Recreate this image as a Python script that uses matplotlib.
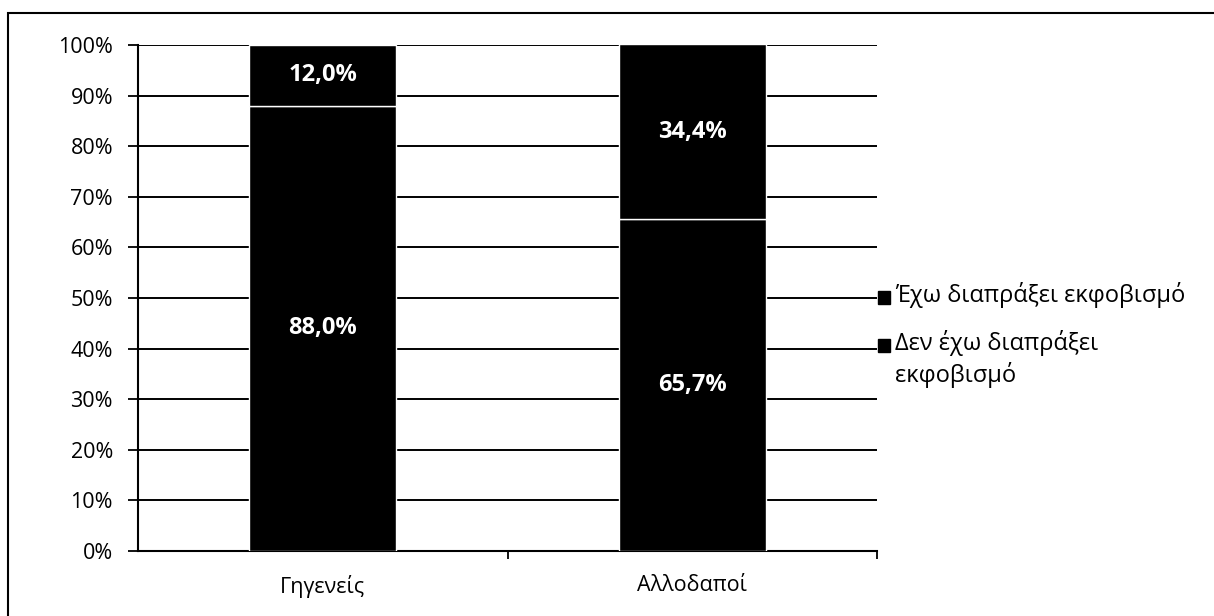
import numpy as np
import matplotlib.pyplot as plt
from matplotlib.patches import Rectangle
from matplotlib.ticker import PercentFormatter

categories = ['Γηγενείς', 'Αλλοδαποί']
not_bullied = [88.0, 65.7]   # Δεν έχω διαπράξει εκφοβισμό
bullied = [12.0, 34.4]       # Έχω διαπράξει εκφοβισμό
labels_not = ['88,0%', '65,7%']
labels_yes = ['12,0%', '34,4%']
legend_labels = ['Έχω διαπράξει εκφοβισμό', 'Δεν έχω διαπράξει\nεκφοβισμό']

plt.rcParams['font.family'] = ['Open Sans', 'DejaVu Sans']

fig = plt.figure(figsize=(12.14, 6.16), dpi=100)
ax = fig.add_axes([138 / 1214, 1 - 551 / 616, 739 / 1214, 506 / 616])

x = np.arange(len(categories))
w = 0.398
ax.bar(x, not_bullied, w, color='black', edgecolor='white', linewidth=1.0, zorder=3)
ax.bar(x, bullied, w, bottom=not_bullied, color='black', edgecolor='white', linewidth=1.0, zorder=3)

for i in range(len(categories)):
    ax.text(x[i], not_bullied[i] / 2, labels_not[i], ha='center', va='center',
            color='white', fontsize=17, fontweight='bold', zorder=4)
    ax.text(x[i], not_bullied[i] + bullied[i] / 2, labels_yes[i], ha='center', va='center',
            color='white', fontsize=17, fontweight='bold', zorder=4)

ax.set_xlim(-0.5, 1.5)
ax.set_ylim(0, 100)
ax.set_yticks(np.arange(0, 101, 10))
ax.yaxis.set_major_formatter(PercentFormatter(decimals=0))
ax.yaxis.grid(True, color='black', linewidth=1.4, zorder=1)
ax.set_axisbelow(True)

ax.set_xticks([0.5, 1.5])
ax.set_xticklabels([])
ax.set_xticks(x, minor=True)
ax.set_xticklabels(categories, minor=True, fontsize=15.5)
ax.tick_params(axis='x', which='minor', length=0, pad=17)
ax.tick_params(axis='x', which='major', length=6, width=1.3, color='black')
ax.tick_params(axis='y', length=7, width=1.3, pad=11, labelsize=15.5)

for s in ['top', 'right']:
    ax.spines[s].set_visible(False)
ax.spines['left'].set_linewidth(1.5)
ax.spines['bottom'].set_linewidth(1.5)

# legend drawn by hand so the square sits on the first text line
leg_y = [297, 345]
for yy, lab in zip(leg_y, legend_labels):
    fy = 1 - yy / 616
    fig.patches.append(Rectangle((878 / 1214, fy - 6.5 / 616), 12 / 1214, 13 / 616,
                                 transform=fig.transFigure, facecolor='black', edgecolor='black'))
    fig.text(895 / 1214, 1 - (yy - 15) / 616, lab, fontsize=17, ha='left', va='top',
             linespacing=1.3, transform=fig.transFigure)

fig.patches.append(Rectangle((8 / 1214, -0.1), 1.2, 1.1 - 13 / 616, transform=fig.transFigure,
                             fill=False, edgecolor='black', linewidth=1.5))

fig.savefig('out.png', dpi=100, facecolor='white')
